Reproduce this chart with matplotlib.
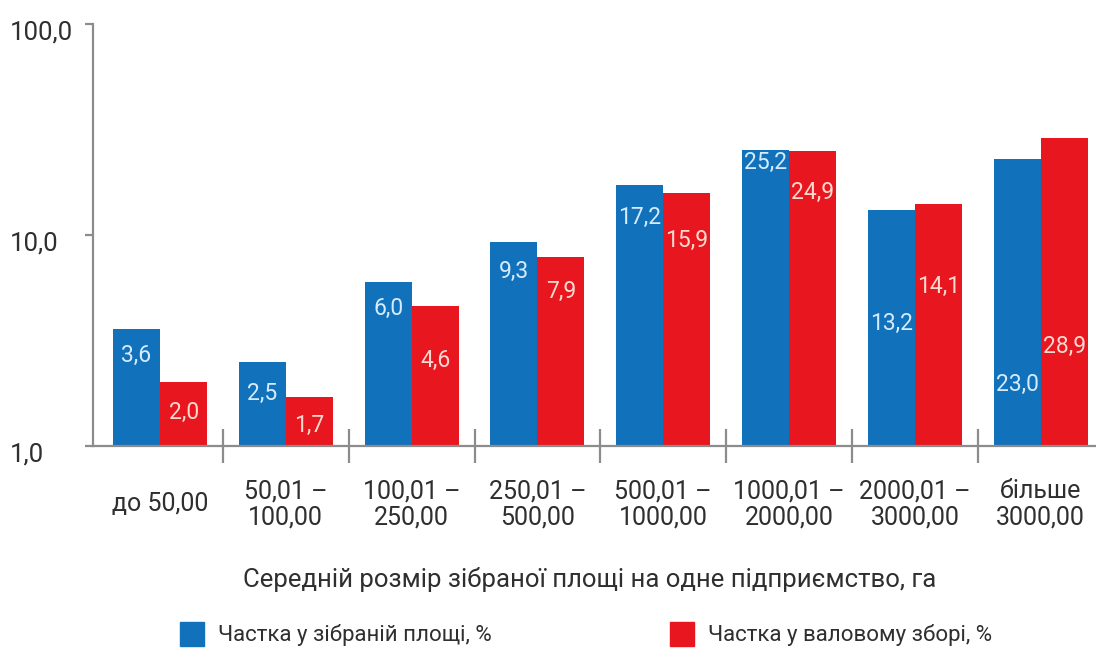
import matplotlib
matplotlib.use("Agg")
from matplotlib import pyplot as plt
from matplotlib.patches import Patch
from matplotlib.transforms import ScaledTranslation
import numpy as np

categories = ['до 50,00', '50,01 –\n100,00', '100,01 –\n250,00', '250,01 –\n500,00',
              '500,01 –\n1000,00', '1000,01 –\n2000,00', '2000,01 –\n3000,00', 'більше\n3000,00']
area_share = [3.6, 2.5, 6.0, 9.3, 17.2, 25.2, 13.2, 23.0]
harvest_share = [2.0, 1.7, 4.6, 7.9, 15.9, 24.9, 14.1, 28.9]
series_names = ['Частка у зібраній площі, %', 'Частка у валовому зборі, %']
y_ticks = [1, 10, 100]
y_ticklabels = ['1,0', '10,0', '100,0']
x_title = 'Середній розмір зібраної площі на одне підприємство, га'

# label drop below bar top, in pixels (layout only)
blue_drop = [27, 31, 27, 30, 32, 12, 114, 226]
red_drop = [30, 28, 54, 35, 48, 41, 83, 209]

blue, red = '#1271BB', '#E8161F'
grey = '#8c8c8c'
txt = '#2f2f2f'
fs = 18.5

plt.rcParams['font.family'] = ['Roboto', 'DejaVu Sans']

fig = plt.figure(figsize=(10.96, 6.6), dpi=100)
ax = fig.add_axes([93/1096, 1-446/660, (1096-93)/1096, (446-24)/660])

x = np.arange(len(categories))
w = 0.374
b1 = ax.bar(x - w/2, area_share, w, color=blue)
b2 = ax.bar(x + w/2, harvest_share, w, color=red)

ax.set_yscale('log')
ax.set_ylim(1, 100)
ax.set_xlim(-0.533, 7.44)

for rects, vals, drops, c in [(b1, area_share, blue_drop, '#d5ebff'), (b2, harvest_share, red_drop, '#ffd9cf')]:
    for r, v, d in zip(rects, vals, drops):
        ax.annotate(f'{v:.1f}'.replace('.', ','), (r.get_x() + r.get_width()/2, v),
                    xytext=(0, -d*0.72), textcoords='offset points',
                    ha='center', va='center', color=c, fontsize=16.5)

for s in ['top', 'right']:
    ax.spines[s].set_visible(False)
for s in ['left', 'bottom']:
    ax.spines[s].set_color(grey)
    ax.spines[s].set_linewidth(1.6)

ax.set_yticks(y_ticks)
ax.set_yticklabels(y_ticklabels, ha='left', fontsize=fs, color=txt)
ax.yaxis.set_minor_locator(matplotlib.ticker.NullLocator())
ax.tick_params(axis='y', length=6, width=1.6, color=grey, pad=54)
for lab in ax.get_yticklabels():
    lab.set_transform(lab.get_transform() + ScaledTranslation(0, -6/100, fig.dpi_scale_trans))

ax.set_xticks(x)
ax.set_xticklabels(categories, fontsize=18, color=txt, va='center', linespacing=1.1)
ax.tick_params(axis='x', which='major', length=0, pad=42)
ax.set_xticks(x[:-1] + 0.5, minor=True)
ax.tick_params(axis='x', which='minor', direction='inout', length=24, width=1.6, color=grey)

fig.text(590/1096, 1-580/660, x_title, ha='center', va='center', fontsize=fs, color=txt)

legend_x = [180/1096, 670/1096]
for h, name, lx in zip([Patch(color=blue), Patch(color=red)], series_names, legend_x):
    fig.legend([h], [name], loc='center left', bbox_to_anchor=(lx, 1-634/660),
               frameon=False, fontsize=16, borderpad=0, borderaxespad=0,
               handlelength=1.1, handleheight=1.3, handletextpad=0.6, labelcolor=txt)

fig.savefig('out.png', dpi=100)
